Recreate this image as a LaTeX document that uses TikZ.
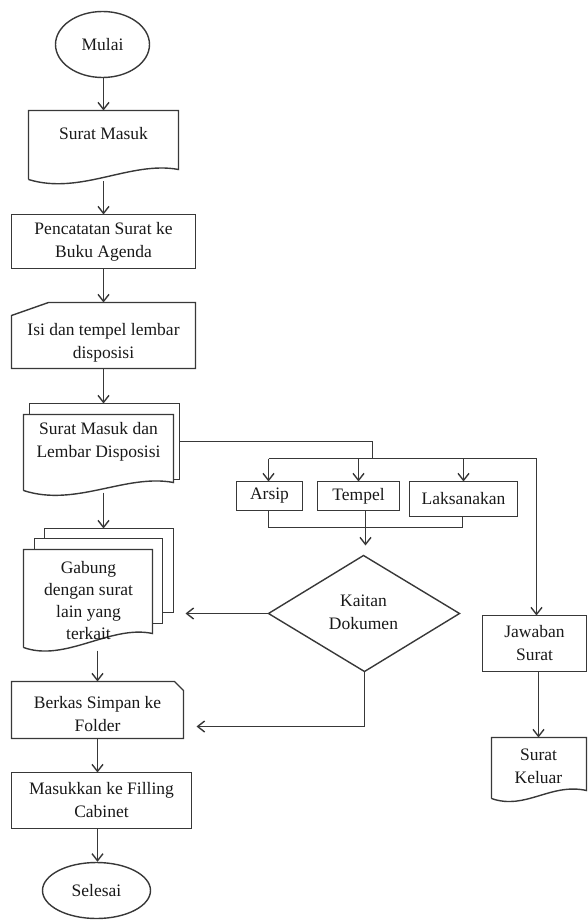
\documentclass[tikz,border=0pt]{standalone}
\usepackage{fontspec}
\setmainfont{Liberation Serif}
\usetikzlibrary{arrows.meta,shapes.geometric}
\definecolor{ln}{HTML}{383838}
\begin{document}
\begin{tikzpicture}[x=1pt,y=-1pt,
  ln/.style={draw=ln,line width=1.4pt,line join=miter},
  arr/.style={ln,-{Straight Barb[length=7pt,width=11pt]}},
  txt/.style={font=\fontsize{17.5}{23}\selectfont,align=center,text=black!90},
  box/.style={rectangle,inner sep=0pt,outer sep=0pt,txt},
  frame/.style={insert path={(#1.north west) -- (#1.north east) -- (#1.south east) -- (#1.south west) -- cycle}}]
\useasboundingbox (0,0) rectangle (587,920);
\begin{scope}[shift={(0.5,0.5)}]
% start
\node[ln,ellipse,inner sep=0pt,minimum width=94pt,minimum height=66pt,txt] (mulai) at (102,44) {Mulai};
% Surat Masuk (document)
\coordinate (smT) at (103,110);
\coordinate (smB) at (103,181);
\draw[ln] (28,179) -- (28,110) -- (178,110) -- (178,169) .. controls (130,160) and (80,195) .. (28,179);
\node[txt] (sm) at (103,133) {Surat Masuk};
% Pencatatan
\node[box,minimum width=184pt,minimum height=54pt] (pc) at (103,241) {Pencatatan Surat ke\\Buku Agenda};
\draw[ln,frame=pc];
% Isi (manual input)
\coordinate (isiT) at (103,302);
\coordinate (isiB) at (103,368);
\draw[ln] (11,315) -- (48,302) -- (195,302) -- (195,368) -- (11,368) -- cycle;
\node[txt] (isi) at (103,342) {Isi dan tempel lembar\\disposisi};
% Surat Masuk dan Lembar Disposisi (multi document)
\coordinate (smdT) at (103,403);
\coordinate (smdB) at (103,492);
\coordinate (smdR) at (179,441);
\draw[ln] (29,414) -- (29,403) -- (179,403) -- (179,479) -- (173,479);
\draw[ln] (23,490) -- (23,414) -- (173,414) -- (173,482) .. controls (125,473) and (75,507) .. (23,490);
\node[txt] (smd) at (98,441) {Surat Masuk dan\\Lembar Disposisi};
% branch
\coordinate (br1) at (372,441);
\coordinate (br2) at (372,458);
\coordinate (brL) at (268,458);
\coordinate (brR) at (536,458);
\node[box,minimum width=66pt,minimum height=29pt] (arsip) at (269,495.5) {Arsip};
\node[box,minimum width=82pt,minimum height=29pt] (tempel) at (358,495.5) {Tempel};
\node[box,minimum width=108pt,minimum height=35pt] (laks) at (463,498.5) {Laksanakan};
\draw[ln,frame=arsip];
\draw[ln,frame=tempel];
\draw[ln,frame=laks];
\draw[ln] (smdR) -- (br1) -- (br2);
\draw[ln] (brL) -- (brR);
\draw[arr] (brL) -- (arsip.north -| brL);
\draw[arr] (tempel.north |- brL) -- (tempel.north);
\draw[arr] (laks.north |- brL) -- (laks.north);
% join
\coordinate (j1) at (268,527);
\coordinate (j2) at (462,527);
\draw[ln] (arsip.south -| j1) -- (j1) -- (j2) -- (laks.south -| j2);
% diamond
\coordinate (dT) at (363,555);
\coordinate (dR) at (459,613);
\coordinate (dB) at (364,671);
\coordinate (dL) at (268,613);
\draw[ln] (dT) -- (dR) -- (dB) -- (dL) -- cycle;
\node[txt] (kaitan) at (363,612) {Kaitan\\Dokumen};
\coordinate (tpB) at (365,510);
\coordinate (tpA) at (365,545);
\draw[arr] (tpB) -- (tpA);
% Gabung (multi document)
\coordinate (gbR) at (185,613);
\coordinate (gbT) at (97,528);
\coordinate (gbB) at (97,650);
\draw[ln] (44,538) -- (44,528) -- (173,528) -- (173,612) -- (162,612);
\draw[ln] (34,549) -- (34,538) -- (162,538) -- (162,623) -- (152,623);
\draw[ln] (23,647) -- (23,549) -- (152,549) -- (152,633) .. controls (110,624) and (65,662) .. (23,647);
\node[txt,font=\fontsize{17.5}{22.3}\selectfont] (gabung) at (88,600) {Gabung\\dengan surat\\lain yang\\terkait};
\draw[arr] (dL) -- (gbR);
% Berkas (card)
\coordinate (bkT) at (97,681);
\coordinate (bkB) at (97,738);
\coordinate (bkR) at (196,726);
\draw[ln] (11,681) -- (174,681) -- (183,690) -- (183,738) -- (11,738) -- cycle;
\node[txt] (berkas) at (97,714) {Berkas Simpan ke\\Folder};
\coordinate (dB2) at (364,726);
\draw[ln] (dB) -- (dB2);
\draw[arr] (dB2) -- (bkR);
% Masukkan
\node[box,minimum width=180pt,minimum height=56pt] (masuk) at (101,800) {Masukkan ke Filling\\Cabinet};
\draw[ln,frame=masuk];
% end
\node[ln,ellipse,inner sep=0pt,minimum width=108pt,minimum height=56pt,txt] (selesai) at (96,890) {Selesai};
% Jawaban
\node[box,minimum width=104pt,minimum height=56pt] (jawab) at (534,643) {Jawaban\\Surat};
\draw[ln,frame=jawab];
\draw[arr] (brR) -- (brR |- jawab.north);
% Surat Keluar (document)
\coordinate (skT) at (538,737);
\draw[ln] (491,798) -- (491,737) -- (586,737) -- (586,790) .. controls (550,782) and (525,810) .. (491,798);
\node[txt] (keluar) at (538,766) {Surat\\Keluar};
% main arrows
\draw[arr] (mulai.south -| smT) -- (smT);
\draw[arr] (smB) -- (pc.north -| smB);
\draw[arr] (pc.south -| isiT) -- (isiT);
\draw[arr] (isiB) -- (smdT);
\draw[arr] (smdB) -- (smdB |- gbT);
\draw[arr] (gbB) -- (bkT);
\draw[arr] (bkB) -- (bkB |- masuk.north);
\draw[arr] (bkB |- masuk.south) -- (bkB |- selesai.north);
\draw[arr] (jawab.south -| skT) -- (skT);
\end{scope}
\end{tikzpicture}
\end{document}
